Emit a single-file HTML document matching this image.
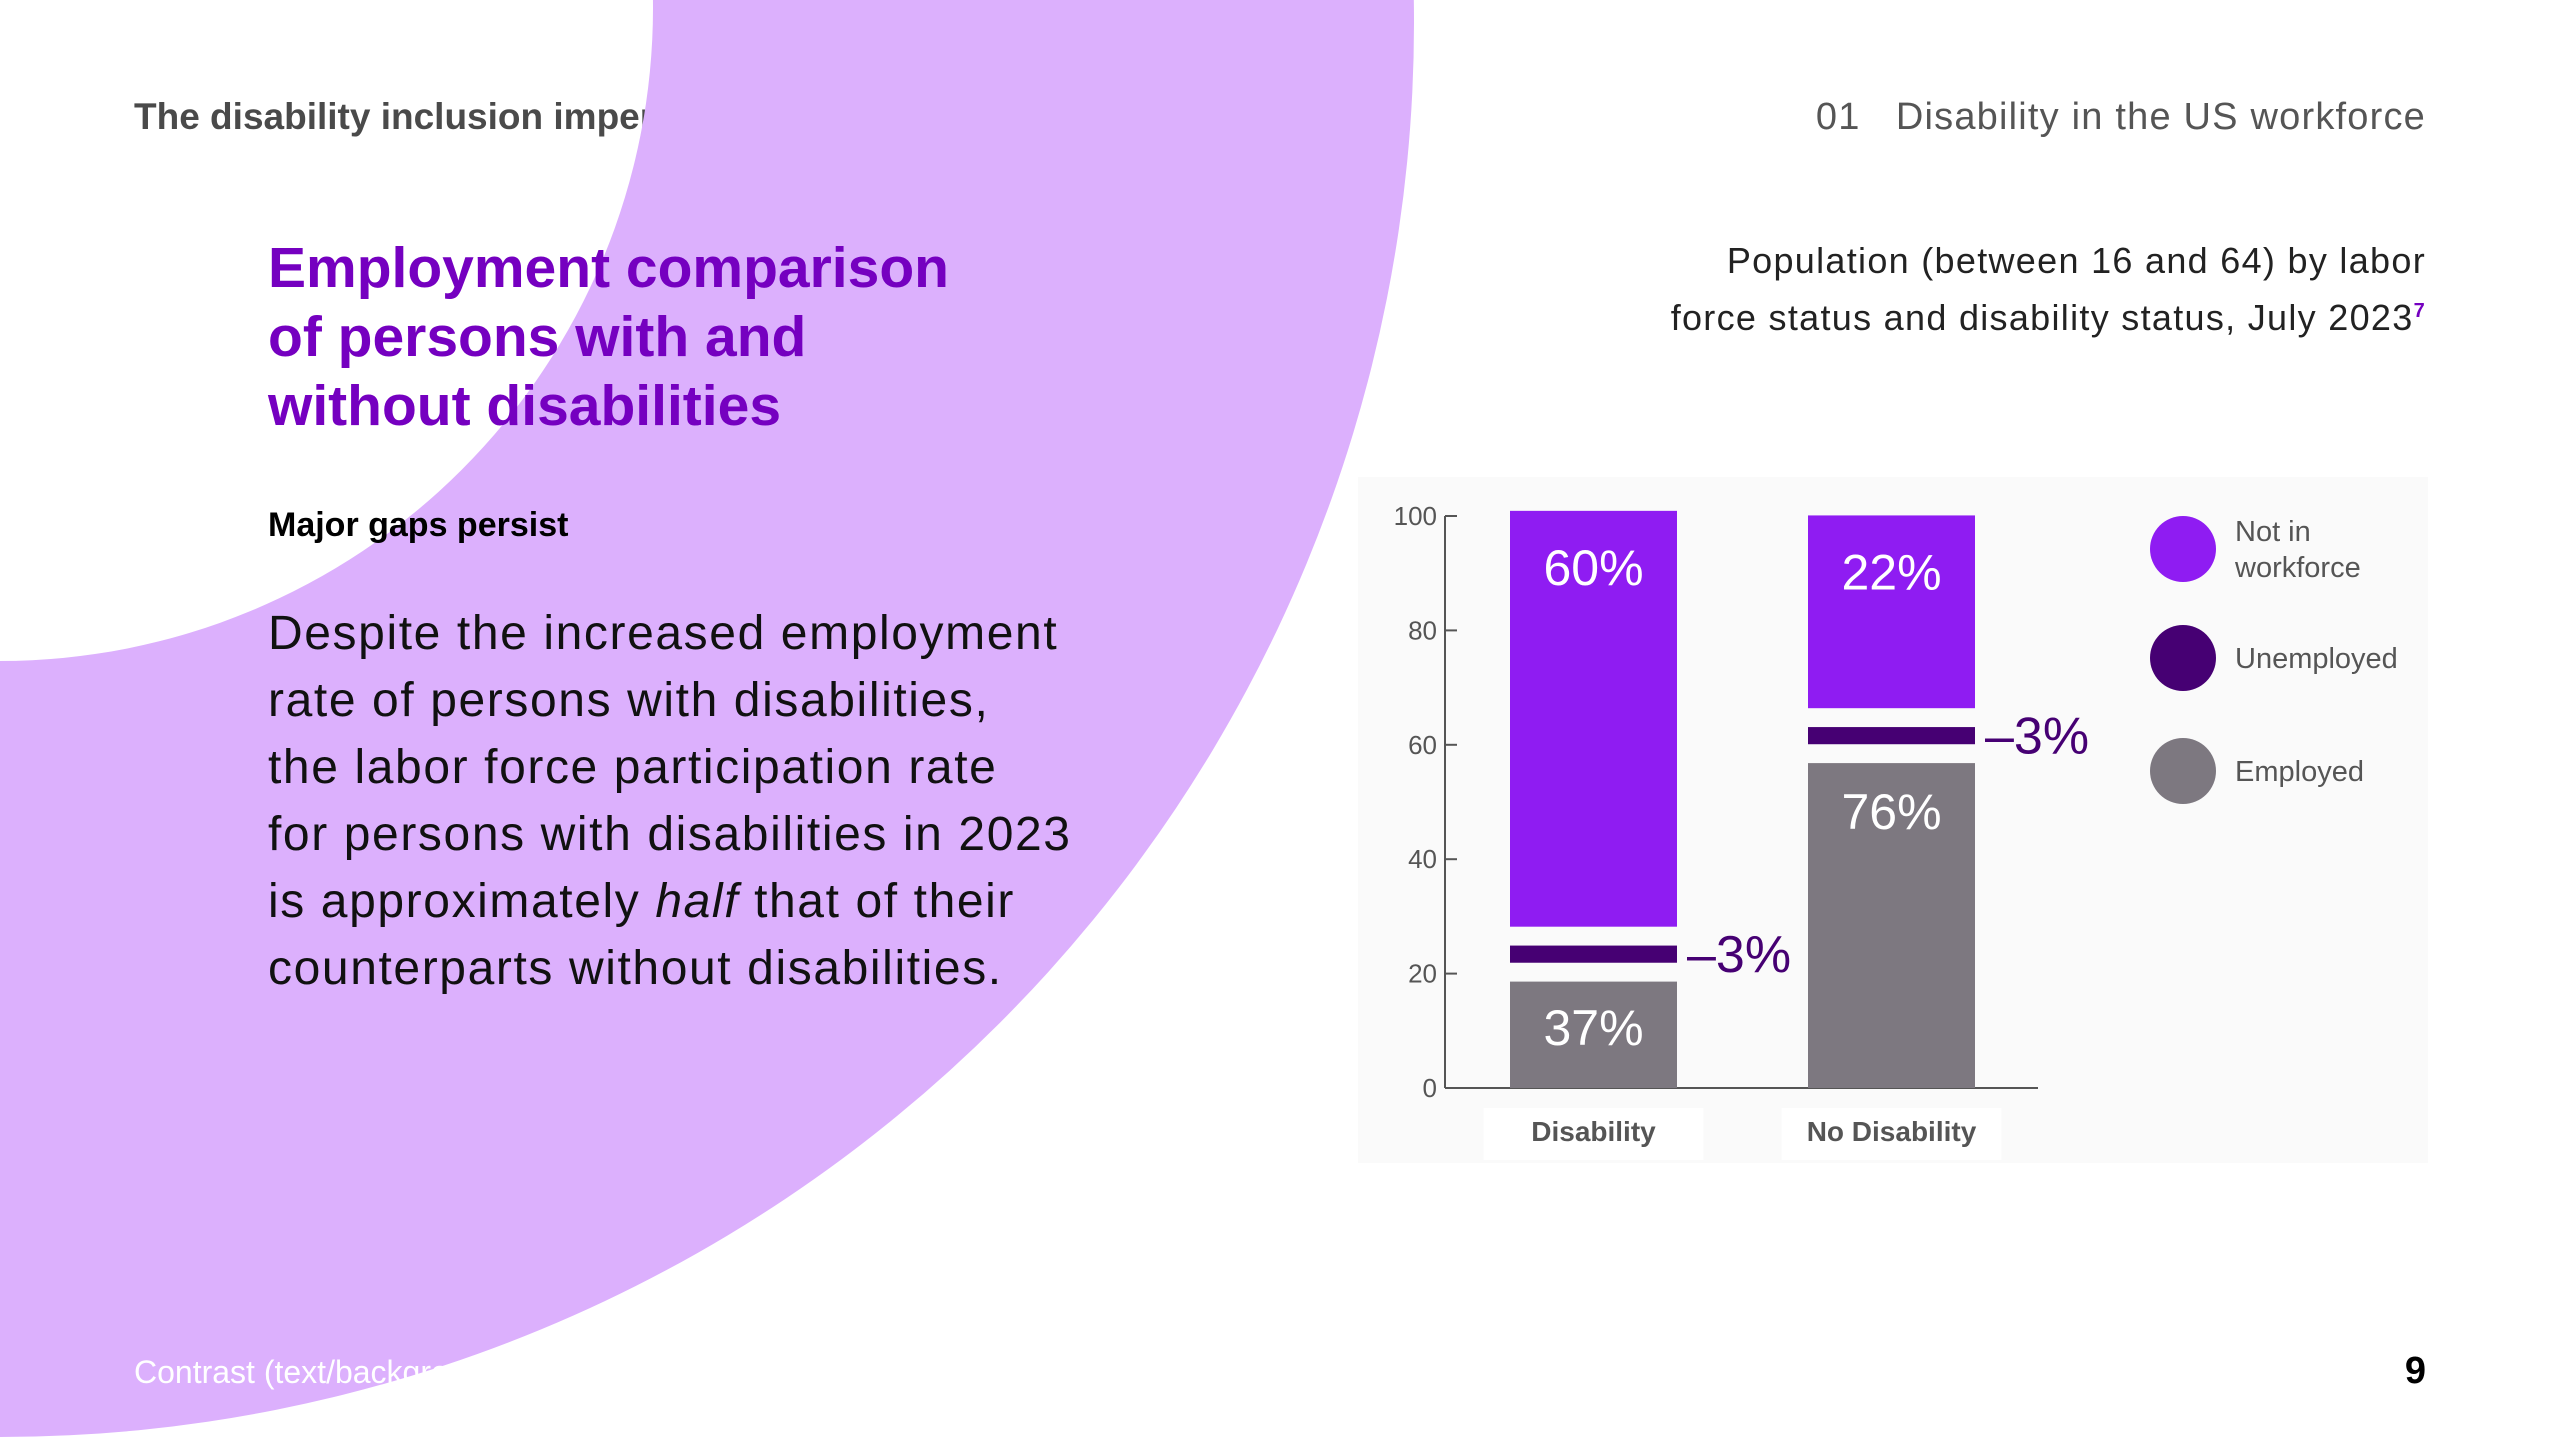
<!DOCTYPE html>
<html><head><meta charset="utf-8"><style>
body{margin:0;width:2560px;height:1440px;overflow:hidden;background:#fff;position:relative;font-family:"Liberation Sans",sans-serif}
.abs{position:absolute;white-space:nowrap}
</style></head><body>
<div class="abs" style="left:134px;top:96px;font-size:37px;font-weight:bold;color:#4a4a4a;z-index:1">The disability inclusion imperative</div>
<svg class="abs" style="left:0;top:0;z-index:2" width="2560" height="1440">
<path fill="#dcb0fd" fill-rule="evenodd" d="M -1414 23 A 1414 1414 0 1 0 1414 23 A 1414 1414 0 1 0 -1414 23 Z M -653 8 A 653 653 0 1 0 653 8 A 653 653 0 1 0 -653 8 Z"/>
</svg>
<div class="abs" style="right:134px;top:96px;font-size:38px;letter-spacing:1.2px;color:#555;z-index:3">01&nbsp;&nbsp;&nbsp;Disability in the US workforce</div>
<div class="abs" style="left:268px;top:234px;font-size:57px;line-height:69px;font-weight:bold;color:#7500c0;z-index:3">Employment comparison<br>of persons with and<br>without disabilities</div>
<div class="abs" style="left:268px;top:506px;font-size:34px;font-weight:bold;color:#000;z-index:3">Major gaps persist</div>
<div class="abs" style="left:268px;top:600px;font-size:48px;letter-spacing:1.6px;line-height:67px;color:#111;z-index:3">Despite the increased employment<br>rate of persons with disabilities,<br>the labor force participation rate<br>for persons with disabilities in 2023<br>is approximately <i>half</i> that of their<br>counterparts without disabilities.</div>
<div class="abs" style="right:134px;top:232px;font-size:36px;letter-spacing:1.3px;line-height:57px;color:#222;text-align:right;z-index:3">Population (between 16 and 64) by labor<br>force status and disability status, July 2023<sup style="color:#7500c0;font-size:20px;font-weight:bold;line-height:0">7</sup></div>
<div class="abs" style="left:134px;top:1354px;font-size:32px;color:#fff;z-index:3">Contrast (text/background) ratios for all elements on this page are passing</div>
<div class="abs" style="right:134px;top:1350px;font-size:38px;font-weight:bold;color:#000;z-index:3">9</div>
<svg id="chart" class="abs" style="left:0;top:0;z-index:4" width="2560" height="1440"></svg>
<script>
const categories=["Disability","No Disability"];
const employed=[18.6,56.8];
const unemployed=[3,3];
const notInWorkforce=[72.7,33.7];
const gap=3.3;
const employedLabels=["37%","76%"];
const unemployedLabels=["3%","3%"];
const nilfLabels=["60%","22%"];
const yTicks=[0,20,40,60,80,100];
const legendLabels=[["Not in","workforce"],["Unemployed"],["Employed"]];
const colors={nilf:"#8f1cf2",unemp:"#460073",emp:"#7d7880"};
const NS="http://www.w3.org/2000/svg";
const svg=document.getElementById('chart');
const y0=1088,y100=516,axisX=1445;
const y=v=>y0-(y0-y100)*v/100;
const barX=[1510,1808],barW=167;
const bx=i=>barX[i];
function mk(tag,attrs,parent){const e=document.createElementNS(NS,tag);for(const k in attrs)e.setAttribute(k,attrs[k]);(parent||svg).appendChild(e);return e;}
const panel=mk('rect',{x:1358,y:477,width:1070,height:686,fill:"#fafafa"});


const ax=mk('line',{x1:axisX,y1:y(100),x2:axisX,y2:y0,stroke:"#555","stroke-width":2});


const bl=mk('line',{x1:axisX,y1:y0,x2:2038,y2:y0,stroke:"#555","stroke-width":2});


yTicks.forEach(t=>{
 const tk=mk('line',{x1:axisX,y1:y(t),x2:axisX+12,y2:y(t),stroke:"#555","stroke-width":2});
 
 
 const tl=mk('text',{x:axisX-8,y:y(t)+9,"text-anchor":"end","font-size":26,fill:"#555","font-family":"Liberation Sans"});
 tl.textContent=t;
 
 
});
categories.forEach((c,i)=>{
 const x=bx(i);
 const e1=employed[i],u0=e1+gap,u1=u0+unemployed[i],n0=u1+gap,n1=n0+notInWorkforce[i];
 const r1=mk('rect',{x:x,y:y(e1),width:barW,height:y(0)-y(e1),fill:colors.emp});
 
 
 const r2=mk('rect',{x:x,y:y(u1),width:barW,height:y(u0)-y(u1),fill:colors.unemp});
 
 
 const r3=mk('rect',{x:x,y:y(n1),width:barW,height:y(n0)-y(n1),fill:colors.nilf});
 
 
 const cx=x+barW/2;
 const t1=mk('text',{x:cx,y:y(n1)+74,"text-anchor":"middle","font-size":50,fill:"#fff","font-family":"Liberation Sans"});
 t1.textContent=nilfLabels[i];
 
 
 const empY=i===0?y(e1/2)+10:y(e1)+66;
 const t2=mk('text',{x:cx,y:empY,"text-anchor":"middle","font-size":50,fill:"#fff","font-family":"Liberation Sans"});
 t2.textContent=employedLabels[i];
 
 
 const t3=mk('text',{x:x+barW+10,y:y((u0+u1)/2)+18,"font-size":52,fill:colors.unemp,"font-family":"Liberation Sans"});
 t3.textContent="–"+unemployedLabels[i];
 
 
 const bg=mk('rect',{x:cx-110,y:1108,width:220,height:52,fill:"#fff"});
 
 
 const cl=mk('text',{x:cx,y:1141,"text-anchor":"middle","font-size":28,"font-weight":"bold",fill:"#555","font-family":"Liberation Sans"});
 cl.textContent=c;
 
 
});
const legCols=[colors.nilf,colors.unemp,colors.emp];
const legY=[549,658,771];
legendLabels.forEach((l,i)=>{
 const c=mk('circle',{cx:2183,cy:legY[i],r:33,fill:legCols[i]});
 
 
 const t=mk('text',{x:2235,y:legY[i]+(l.length>1?-8:10),"font-size":29,fill:"#555","font-family":"Liberation Sans"});
 
 
 l.forEach((s,j)=>{const ts=mk('tspan',{x:2235,dy:j?36:0},t);ts.textContent=s;});
});
</script>
</body></html>
